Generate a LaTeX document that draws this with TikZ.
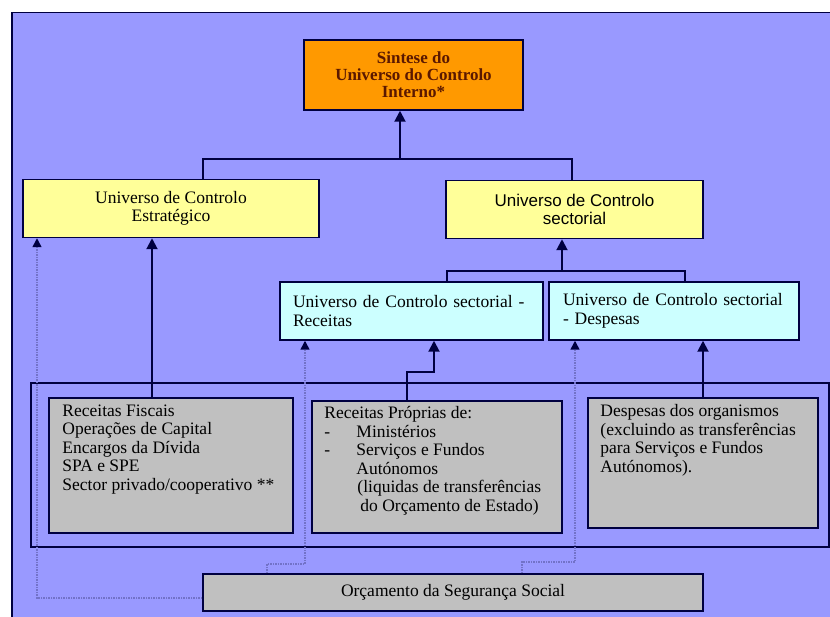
\documentclass[tikz,border=0pt]{standalone}
\usepackage{fontspec}
\setmainfont{Liberation Serif}
\setsansfont{Liberation Sans}
\usetikzlibrary{arrows.meta, positioning}

\definecolor{fundo}{HTML}{9999FF}
\definecolor{laranja}{HTML}{FF9900}
\definecolor{amarelo}{HTML}{FFFF99}
\definecolor{ciano}{HTML}{CCFFFF}
\definecolor{cinza}{HTML}{C0C0C0}
\definecolor{marinho}{HTML}{000040}
\definecolor{pontos}{HTML}{7272C8}
\definecolor{castanho}{HTML}{5A1800}

\begin{document}
\begin{tikzpicture}[x=1pt, y=-1pt,
  every node/.style={font=\fontsize{17.5}{18.5}\selectfont, inner sep=0pt},
  caixa/.style={draw=marinho, line width=1.5pt},
  topo/.style={caixa, fill=laranja, minimum width=219pt, minimum height=70pt,
    align=center, text=castanho, font=\bfseries\fontsize{17}{17}\selectfont},
  amarela/.style={caixa, fill=amarelo, minimum height=58pt, align=center},
  azul/.style={caixa, fill=ciano, minimum height=58pt, align=left},
  cinzenta/.style={caixa, fill=cinza},
  texto/.style={align=left, anchor=north west},
  linha/.style={draw=marinho, line width=2pt},
  seta/.style={linha, -{Triangle[width=11pt,length=11pt]}},
  pontilhado/.style={draw=pontos, line width=1.5pt, densely dotted,
    -{Triangle[width=9pt,length=9pt,color=marinho]}}]

  \useasboundingbox (0,0) rectangle (830,617);

  % Background
  \fill[white] (0,0) rectangle (830,617);
  \fill[fundo] (12,12.5) rectangle (830,617);
  \draw[marinho, line width=1.5pt] (12,617) |- (830,12.5);

  % Top
  \node[topo] (sint) at (413.5,75) {Sintese do\\Universo do Controlo\\Interno*};

  % Universes
  \node[amarela, minimum width=296pt] (estr) at (171,208.5)
    {Universo de Controlo\\Estratégico};
  \node[amarela, minimum width=257pt, font=\sffamily\fontsize{17}{18.5}\selectfont]
    (sect) at (574.5,209.5) {Universo de Controlo\\sectorial};

  % Sectorial parts
  \node[azul, inner xsep=13pt, text width=237pt] (rec) at (411.5,311)
    {Universo de Controlo sectorial -\\Receitas};
  \node[azul, inner xsep=14pt, text width=222pt] (desp) at (674,311)
    {Universo de Controlo sectorial\\- Despesas};

  % Lower frame and boxes
  \node[caixa, minimum width=798pt, minimum height=164pt] (quadro) at (430,465) {};
  \node[cinzenta, minimum width=244pt, minimum height=135pt] (fisc) at (171,465.5) {};
  \node[cinzenta, minimum width=250pt, minimum height=132pt] (prop) at (437,467) {};
  \node[cinzenta, minimum width=230pt, minimum height=130pt] (orgs) at (703,463) {};
  \node[cinzenta, minimum width=500pt, minimum height=37pt] (ss) at (453,592.5)
    {Orçamento da Segurança Social};

  \node[texto] (fiscT) at ([shift={(14pt,-7pt)}]fisc.north west)
    {Receitas Fiscais\\Operações de Capital\\Encargos da Dívida\\SPA e SPE\\
     Sector privado/cooperativo **};
  \node[texto] (propT) at ([shift={(13pt,-6pt)}]prop.north west)
    {Receitas Próprias de:\\
     \makebox[32pt][l]{-}Ministérios\\
     \makebox[32pt][l]{-}Serviços e Fundos\\
     \hspace*{32pt}Autónomos\\
     \hspace*{33pt}(liquidas de transferências\\
     \hspace*{36pt}do Orçamento de Estado)};
  \node[texto] (orgsT) at ([shift={(13pt,-7pt)}]orgs.north west)
    {Despesas dos organismos\\(excluindo as transferências\\
     para Serviços e Fundos\\Autónomos).};

  % Junctions
  \coordinate (jt) at (400,159);
  \coordinate (js) at (562,271);
  \coordinate (pr) at (434,372);
  \coordinate (dr) at (305,564);
  \coordinate (dd) at (575,562);

  % Solid connectors
  \draw[seta] (jt) -- (jt |- sint.south);
  \draw[linha] ([xshift=32pt]estr.north) |- (jt) -| ([xshift=-2.5pt]sect.north);
  \draw[seta] (js) -- (js |- sect.south);
  \draw[linha] ([xshift=35.5pt]rec.north) |- (js) -| ([xshift=11pt]desp.north);
  \draw[seta] ([xshift=-19pt]fisc.north) -- ([xshift=-19pt]estr.south);
  \draw[seta] ([xshift=-30pt]prop.north) |- (pr) -- (pr |- rec.south);
  \draw[seta] (orgs.north) -- ([xshift=29pt]desp.south);

  % Dotted connectors from the social security budget
  \draw[pontilhado] ([yshift=-5.5pt]ss.west) -| ([xshift=-134pt]estr.south);
  \draw[pontilhado] ([xshift=-186pt]ss.north) |- (dr) -- (dr |- rec.south);
  \draw[pontilhado] ([xshift=69pt]ss.north) |- (dd) -- (dd |- desp.south);
\end{tikzpicture}
\end{document}
